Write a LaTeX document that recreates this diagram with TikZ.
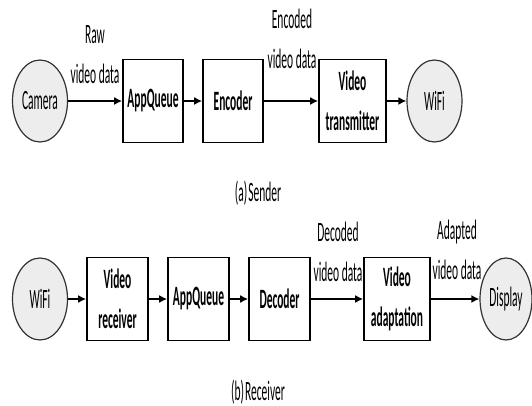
\documentclass[tikz,border=0pt]{standalone}
\usepackage{fontspec}
\setmainfont{Carlito}[FakeStretch=0.41]
\usetikzlibrary{shapes.geometric,arrows.meta}

\begin{document}
\begin{tikzpicture}[x=1pt, y=-1pt,
    font=\fontsize{28}{40}\selectfont,
    blk/.style={draw, line width=1.6pt, minimum width=61pt, minimum height=83pt,
      inner sep=0pt, align=center, font=\fontsize{28}{40}\selectfont\bfseries},
    term/.style={ellipse, draw=black!80, fill=black!7, line width=1.2pt,
      minimum width=55pt, minimum height=82pt, inner sep=0pt},
    flow/.style={line width=1.6pt, -{Latex[length=8pt,width=8pt]}},
    lbl/.style={align=center, inner sep=0pt}]
\useasboundingbox (0,0) rectangle (532,406);

% (a) sender
\node[term] (cam) at (40,101) {Camera};
\node[blk, minimum width=60pt] (appqa) at (153,101) {AppQueue};
\node[blk, minimum width=60pt] (enc) at (233,101) {Encoder};
\node[blk, minimum width=67pt] (vtx) at (352.5,101) {Video\\transmitter};
\node[term] (wifia) at (434.5,101) {WiFi};

\draw[flow] (cam) -- (appqa);
\draw[flow] (appqa) -- (enc);
\draw[flow] (enc) -- (vtx);
\draw[flow] (vtx) -- (wifia);

\node[lbl] (rawlbl) at (95,55) {Raw\\video data};
\node[lbl] (enclbl) at (292,39) {Encoded\\video data};
\node[lbl] (capa) at (258,193) {(a)\hspace{1pt}Sender};

% (b) receiver
\node[term] (wifib) at (40,299) {WiFi};
\node[blk] (vrx) at (117.5,299) {Video\\receiver};
\node[blk] (appqb) at (198.5,299) {AppQueue};
\node[blk] (dec) at (279.5,299) {Decoder};
\node[blk, minimum width=66pt] (vad) at (397,299) {Video\\adaptation};
\node[term, minimum width=52pt] (disp) at (506,299) {Display};

\draw[flow] (wifib) -- (vrx);
\draw[flow] (vrx) -- (appqb);
\draw[flow] (appqb) -- (dec);
\draw[flow] (dec) -- (vad);
\draw[flow] (vad) -- (disp);

\node[lbl] (declbl) at (338,252) {Decoded\\video data};
\node[lbl] (adalbl) at (457,250) {Adapted\\video data};
\node[lbl] (capb) at (258,392) {(b)\hspace{1pt}Receiver};

\end{tikzpicture}
\end{document}
